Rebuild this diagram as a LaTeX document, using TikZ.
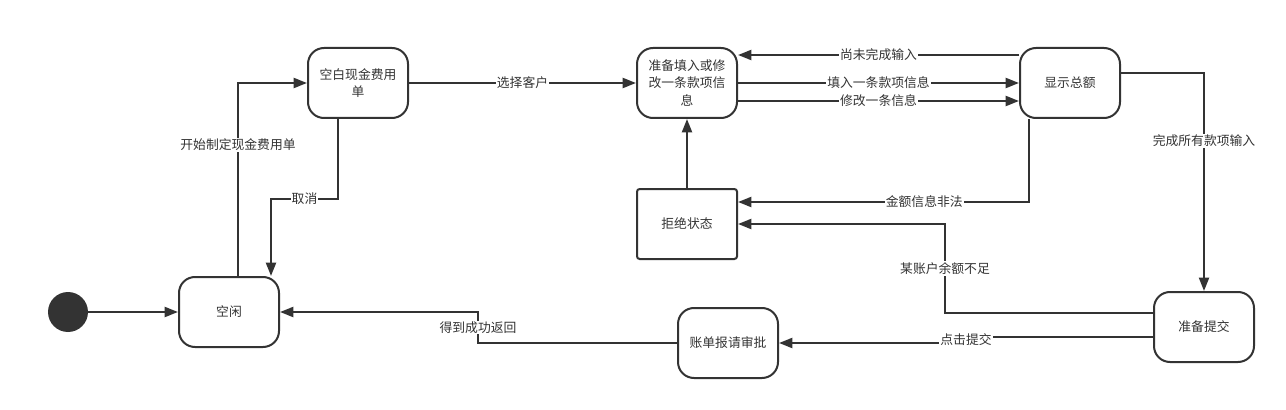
\documentclass[tikz,border=0pt]{standalone}
\usepackage{fontspec}
\setmainfont{Noto Sans CJK SC}
\usepackage{xcolor}
\usetikzlibrary{positioning,arrows.meta}
\definecolor{linegray}{HTML}{333333}

\begin{document}
\begin{tikzpicture}[x=0.75pt,y=-0.75pt,
    state/.style={draw=linegray,line width=1.5pt,rounded corners=12pt,
        minimum width=75pt,minimum height=52.5pt,align=center,
        text=linegray,font=\fontsize{9.6}{13}\selectfont},
    trans/.style={draw=linegray,line width=1.5pt,
        -{Triangle[length=10pt,width=7.5pt]}},
    lbl/.style={fill=white,inner sep=0.8pt,text=linegray,
        font=\fontsize{9.6}{13}\selectfont}]
\useasboundingbox (0,0) rectangle (1286,410);
    \node[circle,fill=linegray,minimum size=30pt,inner sep=0pt] (init) at (68,312) {};
    \node[state] (idle) at (229,312) {空闲};
    \node[state] (blank) at (358,83) {空白现金费用\\单};
    \node[state,right=170.25pt of blank] (prep) {准备填入或修\\改一条款项信\\息};
    \node[state,right=210.75pt of prep] (total) {显示总额};
    \node[state,rounded corners=2pt,below=51.75pt of prep] (reject) {拒绝状态};
    \node[state] (submit) at (1204,327) {准备提交};
    \node[state] (bill) at (728,343) {账单报请审批};
    % transitions
    \draw[trans] (init) -- (idle);
    \draw[trans] ([xshift=6.75pt]idle.north) |- node[lbl,pos=0.34]{开始制定现金费用单} (blank.west);
    \draw[trans] ([xshift=-15pt]blank.south) -- ++(0,80) -| node[lbl,pos=0.25]{取消} ([xshift=31.5pt]idle.north);
    \draw[trans] (blank) -- node[lbl]{选择客户} (prep);
    \draw[trans] ([yshift=21pt]total.west) -- node[lbl]{尚未完成输入} ([yshift=21pt]prep.east);
    \draw[trans] (prep) -- node[lbl]{填入一条款项信息} (total);
    \draw[trans] ([yshift=-13.5pt]prep.east) -- node[lbl]{修改一条信息} ([yshift=-13.5pt]total.west);
    \draw[trans] ([xshift=-30.75pt]total.south) |- node[lbl,pos=0.68]{金额信息非法} ([yshift=16.5pt]reject.east);
    \draw[trans] (reject) -- (prep);
    \draw[trans] ([yshift=7.5pt]total.east) -| node[lbl,pos=0.655]{完成所有款项输入} (submit.north);
    \draw[trans] ([yshift=10.5pt]submit.west) -- ++(-208,0) |- node[lbl,pos=0.25]{某账户余额不足} (reject.east);
    \draw[trans] ([yshift=-7.25pt]submit.west) -- ++(-187,0) |- node[lbl,pos=0.25]{点击提交} (bill.east);
    \draw[trans] (bill.west) -- ++(-199,0) |- node[lbl,pos=0.25]{得到成功返回} (idle.east);
\end{tikzpicture}
\end{document}
